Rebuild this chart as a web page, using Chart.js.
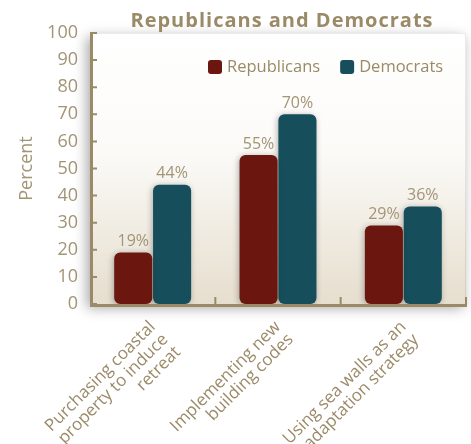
<!DOCTYPE html>
<html>
<head>
<meta charset="utf-8">
<script src="https://cdn.jsdelivr.net/npm/chart.js@4.4.1/dist/chart.umd.min.js"></script>
<style>
	html, body { margin: 0; padding: 0; background: #fff; }
	#wrap { width: 471px; height: 444px; position: relative; overflow: hidden; }
</style>
</head>
<body>
<div id="wrap"><canvas id="chart" width="471" height="444"></canvas></div>
<script>
var chartTitle = 'Republicans and Democrats';
var categories = [
	['Purchasing coastal', 'property to induce', 'retreat'],
	['Implementing new', 'building codes'],
	['Using sea walls as an', 'adaptation strategy']
];
var seriesNames = ['Republicans', 'Democrats'];
var republicans = [19, 55, 29];
var democrats = [44, 70, 36];
var yTicks = [0, 10, 20, 30, 40, 50, 60, 70, 80, 90, 100];

var tan = '#9b8a68';
var tanText = '#a39475';
var red = '#6b1710';
var teal = '#164f5b';

// panel background, shadow, axis lines, inner ticks, value labels, legend, title
var panelPlugin = {
	id: 'panel',
	beforeDatasetsDraw: function(chart) {
		var ctx = chart.ctx, a = chart.chartArea;
		ctx.save();
		ctx.shadowColor = 'rgba(0,0,0,0.35)';
		ctx.shadowBlur = 12;
		ctx.shadowOffsetX = -3;
		ctx.shadowOffsetY = 4;
		var g = ctx.createLinearGradient(0, a.top, 0, a.bottom);
		g.addColorStop(0, '#ffffff');
		g.addColorStop(0.45, '#fbfaf7');
		g.addColorStop(1, '#e6dece');
		ctx.fillStyle = g;
		ctx.fillRect(a.left, a.top, a.right - a.left, a.bottom - a.top);
		ctx.restore();
		ctx.save();
		ctx.strokeStyle = 'rgba(0,0,0,0.08)';
		ctx.lineWidth = 1;
		ctx.beginPath();
		ctx.moveTo(a.left, a.top + 0.5);
		ctx.lineTo(a.right - 0.5, a.top + 0.5);
		ctx.lineTo(a.right - 0.5, a.bottom);
		ctx.stroke();
		ctx.restore();
		// bar shadows
		ctx.save();
		ctx.shadowColor = 'rgba(0,0,0,0.3)';
		ctx.shadowBlur = 6;
		ctx.shadowOffsetX = -1;
		ctx.shadowOffsetY = 1;
	},
	afterDatasetsDraw: function(chart) {
		var ctx = chart.ctx, a = chart.chartArea;
		ctx.restore();
		var ys = chart.scales.y;
		ctx.save();
		ctx.strokeStyle = tan;
		ctx.lineWidth = 3;
		ctx.beginPath();
		ctx.moveTo(a.left + 1.5, a.top);
		ctx.lineTo(a.left + 1.5, a.bottom + 1.5);
		ctx.lineTo(a.right + 1, a.bottom + 1.5);
		ctx.stroke();
		ctx.lineWidth = 2;
		ctx.beginPath();
		for (var i = 0; i < yTicks.length; i++) {
			var y = ys.getPixelForValue(yTicks[i]);
			ctx.moveTo(a.left, y);
			ctx.lineTo(a.left + 7, y);
		}
		var step = (a.right - a.left) / categories.length;
		for (var j = 1; j <= categories.length; j++) {
			var x = a.left + step * j;
			ctx.moveTo(x, a.bottom);
			ctx.lineTo(x, a.bottom - 7);
		}
		ctx.stroke();
		ctx.restore();

		// value labels
		ctx.save();
		ctx.font = '16px "Open Sans"';
		ctx.fillStyle = tanText;
		ctx.textAlign = 'center';
		ctx.textBaseline = 'bottom';
		chart.data.datasets.forEach(function(ds, di) {
			var meta = chart.getDatasetMeta(di);
			meta.data.forEach(function(bar, k) {
				ctx.fillText(ds.data[k] + '%', bar.x, bar.y - 3);
			});
		});
		ctx.restore();

		// legend inside plot
		ctx.save();
		ctx.font = '16.5px "Open Sans"';
		ctx.textBaseline = 'middle';
		var lx = 208, ly = 67;
		chart.data.datasets.forEach(function(ds) {
			ctx.fillStyle = ds.backgroundColor;
			ctx.beginPath();
			ctx.roundRect(lx, ly - 7, 14, 14, 3);
			ctx.fill();
			ctx.fillStyle = tan;
			ctx.textAlign = 'left';
			ctx.fillText(ds.label, lx + 19, ly);
			lx += 19 + ctx.measureText(ds.label).width + 20;
		});
		ctx.restore();

		// title centred over plot
		ctx.save();
		ctx.font = 'bold 20px "Open Sans"';
		ctx.letterSpacing = '1px';
		ctx.fillStyle = tan;
		ctx.textAlign = 'center';
		ctx.textBaseline = 'middle';
		ctx.fillText(chartTitle, (a.left + a.right) / 2 + 4, 21);
		ctx.restore();
	}
};

var ctx = document.getElementById('chart').getContext('2d');
var chart = new Chart(ctx, {
	type: 'bar',
	data: {
		labels: categories,
		datasets: [
			{
				label: seriesNames[0],
				data: republicans,
				backgroundColor: red,
				borderRadius: 6,
				borderSkipped: false,
				categoryPercentage: 0.62,
				barPercentage: 0.98
			},
			{
				label: seriesNames[1],
				data: democrats,
				backgroundColor: teal,
				borderRadius: 6,
				borderSkipped: false,
				categoryPercentage: 0.62,
				barPercentage: 0.98
			}
		]
	},
	options: {
		responsive: false,
		animation: false,
		layout: { padding: { left: 0, right: 5, top: 33, bottom: 0 } },
		plugins: {
			legend: { display: false },
			tooltip: { enabled: false },
			title: { display: false }
		},
		scales: {
			x: {
				grid: { display: false },
				border: { display: false },
				afterFit: function(scale) { scale.height = 140; },
				ticks: {
					color: tan,
					font: { family: '"Open Sans"', size: 17, lineHeight: 1.05 },
					maxRotation: 45,
					minRotation: 45,
					padding: 6
				}
			},
			y: {
				min: 0,
				max: 100,
				afterBuildTicks: function(scale) {
					scale.ticks = yTicks.map(function(v) { return { value: v }; });
				},
				afterFit: function(scale) { scale.width = 90; },
				grid: { display: false },
				border: { display: false },
				ticks: {
					color: tanText,
					font: { family: '"Open Sans"', size: 18 },
					padding: 4
				},
				title: {
					display: true,
					text: 'Percent',
					color: tanText,
					font: { family: '"Open Sans"', size: 18 },
					padding: { top: 16, bottom: 0 }
				}
			}
		}
	},
	plugins: [panelPlugin]
});
</script>
</body>
</html>
